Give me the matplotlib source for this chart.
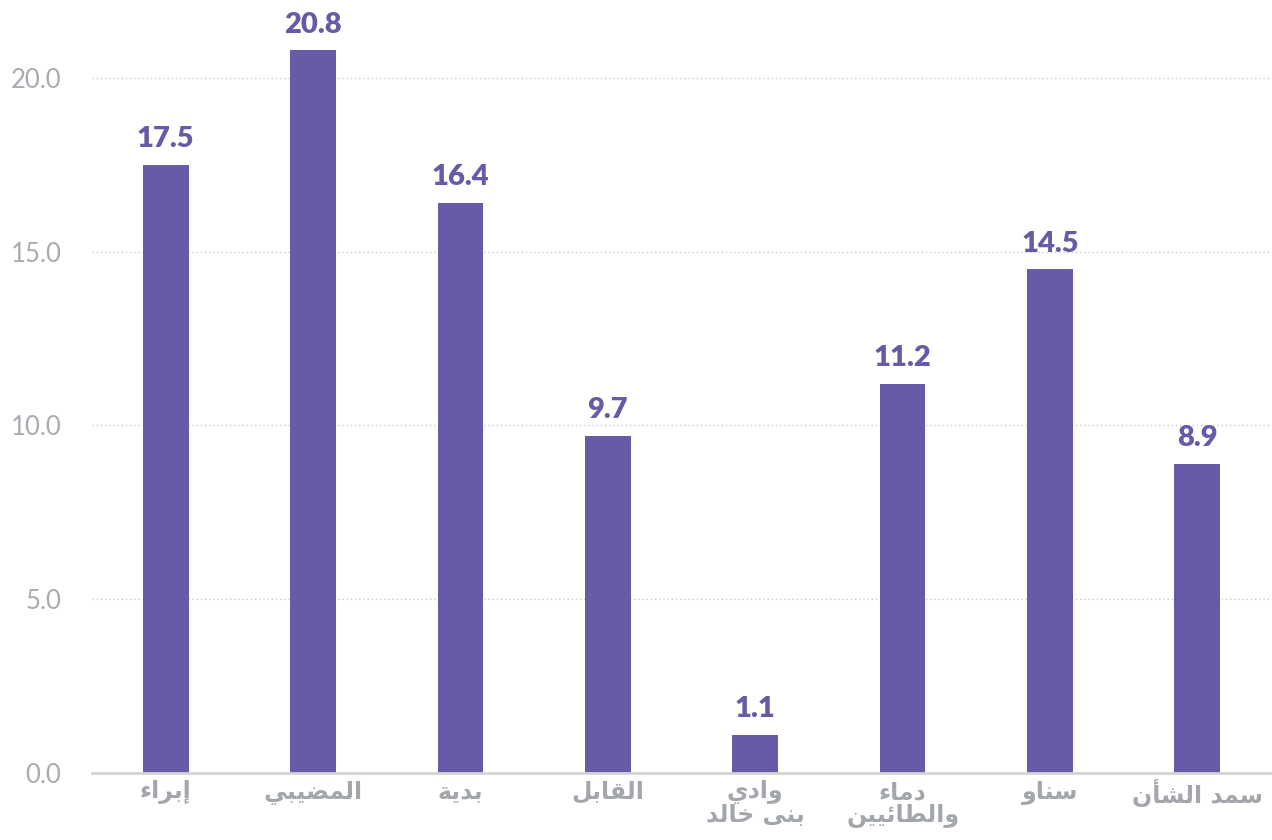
import matplotlib
matplotlib.use("Agg")
import matplotlib.pyplot as plt
import numpy as np

categories = ["إبراء", "المضيبي", "بدية", "القابل", "وادي\nبنى خالد",
              "دماء\nوالطائيين", "سناو", "سمد الشأن"]
values = [17.5, 20.8, 16.4, 9.7, 1.1, 11.2, 14.5, 8.9]
yticks = [0.0, 5.0, 10.0, 15.0, 20.0]

BAR = "#665ba6"
GRAY = "#a3a7ab"

# --- minimal Arabic shaping (presentation forms) + RTL reversal ---
_forms = {
    0x0621: (0xFE80, 1), 0x0622: (0xFE81, 2), 0x0623: (0xFE83, 2), 0x0624: (0xFE85, 2),
    0x0625: (0xFE87, 2), 0x0626: (0xFE89, 4), 0x0627: (0xFE8D, 2), 0x0628: (0xFE8F, 4),
    0x0629: (0xFE93, 2), 0x062A: (0xFE95, 4), 0x062B: (0xFE99, 4), 0x062C: (0xFE9D, 4),
    0x062D: (0xFEA1, 4), 0x062E: (0xFEA5, 4), 0x062F: (0xFEA9, 2), 0x0630: (0xFEAB, 2),
    0x0631: (0xFEAD, 2), 0x0632: (0xFEAF, 2), 0x0633: (0xFEB1, 4), 0x0634: (0xFEB5, 4),
    0x0635: (0xFEB9, 4), 0x0636: (0xFEBD, 4), 0x0637: (0xFEC1, 4), 0x0638: (0xFEC5, 4),
    0x0639: (0xFEC9, 4), 0x063A: (0xFECD, 4), 0x0641: (0xFED1, 4), 0x0642: (0xFED5, 4),
    0x0643: (0xFED9, 4), 0x0644: (0xFEDD, 4), 0x0645: (0xFEE1, 4), 0x0646: (0xFEE5, 4),
    0x0647: (0xFEE9, 4), 0x0648: (0xFEED, 2), 0x0649: (0xFEEF, 2), 0x064A: (0xFEF1, 4),
}
_lamalef = {0x0622: 0xFEF5, 0x0623: 0xFEF7, 0x0625: 0xFEF9, 0x0627: 0xFEFB}


def _shape_line(s):
    cps = [ord(c) for c in s]
    toks = []
    i = 0
    while i < len(cps):
        if cps[i] == 0x0644 and i + 1 < len(cps) and cps[i + 1] in _lamalef:
            toks.append(("LA", _lamalef[cps[i + 1]]))
            i += 2
        else:
            toks.append(("C", cps[i]))
            i += 1

    def joining(t):
        if t[0] == "LA":
            return 2
        return _forms.get(t[1], (None, 0))[1]

    out = []
    for k, t in enumerate(toks):
        prev_j = joining(toks[k - 1]) == 4 if k > 0 else False
        nj = joining(t)
        nxt_j = joining(toks[k + 1]) in (2, 4) if k + 1 < len(toks) else False
        if t[0] == "LA":
            out.append(chr(t[1] + (1 if prev_j else 0)))
            continue
        if nj == 0:
            out.append(chr(t[1]))
            continue
        base, n = _forms[t[1]]
        jp = prev_j
        jn = nxt_j and n == 4
        if n == 1:
            out.append(chr(base))
        elif jp and jn:
            out.append(chr(base + 3))
        elif jp:
            out.append(chr(base + 1))
        elif jn:
            out.append(chr(base + 2))
        else:
            out.append(chr(base))
    return "".join(reversed(out))


def shape(s):
    return "\n".join(_shape_line(line) for line in s.split("\n"))


fig = plt.figure(figsize=(12.72, 8.4), dpi=100)
ax = fig.add_axes([92 / 1272, (840 - 773) / 840, (1271 - 92) / 1272, 773 / 840])

x = np.arange(len(values))
ax.bar(x, values, width=0.31, color=BAR, zorder=3)
for xi, v in zip(x, values):
    ax.annotate(f"{v:.1f}", (xi, v), xytext=(0, 9), textcoords="offset points",
                ha="center", va="bottom", color=BAR, fontsize=21,
                fontweight="heavy", family="Lato", zorder=4)

ax.set_xlim(-0.5, len(values) - 0.5)
ax.set_ylim(0, 22.24)
ax.set_yticks(yticks)
ax.set_yticklabels([f"{t:.1f}" for t in yticks], color="#a8acb0", fontsize=18.5,
                   family="Lato", fontweight="normal")
ax.set_xticks(x)
ax.set_xticklabels([shape(c) for c in categories], color=GRAY, fontsize=17,
                   family="DejaVu Sans", fontweight="bold", linespacing=0.95)
ax.tick_params(axis="y", length=0, pad=22)
ax.tick_params(axis="x", length=0, pad=5)

for t in yticks[1:]:
    ax.axhline(t, color="#c8c8c8", lw=1, ls=(0, (1, 2)), zorder=1)

for s in ["top", "right", "left"]:
    ax.spines[s].set_visible(False)
ax.spines["bottom"].set_color("#d4d4d4")
ax.spines["bottom"].set_linewidth(2)
ax.spines["bottom"].set_zorder(4)

fig.savefig("out.png", dpi=100)
